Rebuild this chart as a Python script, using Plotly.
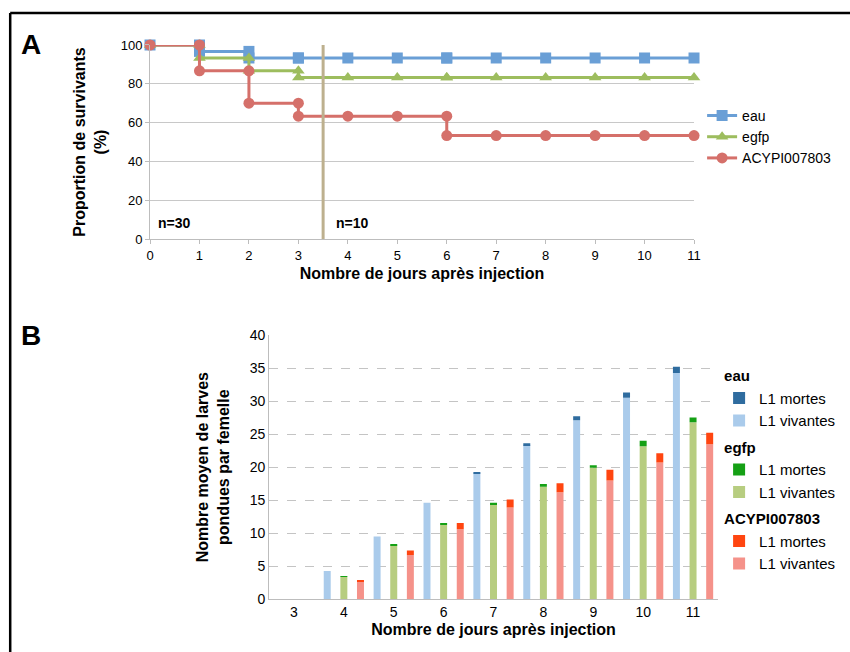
import plotly.graph_objects as go

# ---------- Panel A data (survival, step curves) ----------
days_A = [0, 1, 1, 2, 2, 3, 3, 4, 5, 6, 6, 7, 8, 9, 10, 11]
eau_A = [100, 100, 96.7, 96.7, 93.3, 93.3, 93.3, 93.3, 93.3, 93.3, 93.3, 93.3, 93.3, 93.3, 93.3, 93.3]
egfp_A = [100, 100, 93.3, 93.3, 86.7, 86.7, 83.3, 83.3, 83.3, 83.3, 83.3, 83.3, 83.3, 83.3, 83.3, 83.3]
acypi_A = [100, 100, 86.7, 86.7, 70.0, 70.0, 63.3, 63.3, 63.3, 63.3, 53.3, 53.3, 53.3, 53.3, 53.3, 53.3]
divider_day = 3.5

# ---------- Panel B data (larvae per female) ----------
days_B = [3, 4, 5, 6, 7, 8, 9, 10, 11]
eau_viv = [0, 4.3, 9.5, 14.6, 19.05, 23.3, 27.1, 30.5, 34.25]
eau_mort = [0, 0, 0, 0, 0.15, 0.3, 0.6, 0.8, 0.95]
egfp_viv = [0, 3.4, 8.15, 11.3, 14.3, 17.05, 19.9, 23.15, 26.8]
egfp_mort = [0, 0.1, 0.15, 0.25, 0.3, 0.4, 0.4, 0.85, 0.7]
acypi_viv = [0, 2.7, 6.7, 10.6, 13.9, 16.2, 18.0, 20.7, 23.45]
acypi_mort = [0, 0.1, 0.7, 0.95, 1.2, 1.35, 1.6, 1.4, 1.75]

FONT = "Liberation Sans, Arial, Helvetica, sans-serif"
fig = go.Figure()

# Panel A traces
for name, vals, col, sym in [("eau", eau_A, "#6A9FD6", "square"),
                              ("egfp", egfp_A, "#9DBD5E", "triangle-up"),
                              ("ACYPI007803", acypi_A, "#D5706A", "circle")]:
    fig.add_trace(go.Scatter(x=days_A, y=vals, name=name, mode="lines+markers",
                             line=dict(color=col, width=3),
                             marker=dict(symbol=sym, size=11, color=col),
                             xaxis="x", yaxis="y", legend="legend", cliponaxis=False))

# Panel B traces
groups = [("eau", eau_viv, eau_mort, "#AACBEB", "#2F6C9F", "a"),
          ("egfp", egfp_viv, egfp_mort, "#B7CD80", "#15A015", "b"),
          ("ACYPI007803", acypi_viv, acypi_mort, "#F5928A", "#FF4510", "c")]
rank = 1
for gname, viv, mort, cv, cm, og in groups:
    title = dict(text="<b>" + gname + "</b>", font=dict(size=15, color="black"))
    fig.add_trace(go.Bar(x=days_B, y=viv, name="L1 vivantes", marker=dict(color=cv, line_width=0),
                         offsetgroup=og, legendgroup=gname, legendgrouptitle=title,
                         legendrank=rank + 1, xaxis="x2", yaxis="y2", legend="legend2"))
    fig.add_trace(go.Bar(x=days_B, y=mort, base=viv, name="L1 mortes", marker=dict(color=cm, line_width=0),
                         offsetgroup=og, legendgroup=gname, legendgrouptitle=title,
                         legendrank=rank, xaxis="x2", yaxis="y2", legend="legend2"))
    rank += 2

fig.update_layout(
    width=850, height=652, margin=dict(l=0, r=0, t=0, b=0, autoexpand=False),
    paper_bgcolor="white", plot_bgcolor="white",
    font=dict(family=FONT, color="black", size=13),
    barmode="group", bargap=0.0, bargroupgap=0.58,
    xaxis=dict(domain=[0.1765, 0.8165], range=[0, 11], tickvals=list(range(12)),
               showgrid=False, showline=True, linecolor="#BDBDBD", linewidth=1,
               ticks="outside", tickcolor="#BDBDBD", ticklen=4, tickfont=dict(size=13),
               title=dict(text="<b>Nombre de jours après injection</b>", font=dict(size=16), standoff=6),
               anchor="y", zeroline=False),
    yaxis=dict(domain=[0.6334, 0.931], range=[0, 100], tickvals=[0, 20, 40, 60, 80, 100],
               showgrid=True, gridcolor="#C8C8C8", gridwidth=1, showline=True, linecolor="#BDBDBD",
               ticks="outside", tickcolor="#BDBDBD", ticklen=4, tickfont=dict(size=13),
               title=dict(text="<b>Proportion de survivants<br>(%)</b>", font=dict(size=16), standoff=10),
               anchor="x", zeroline=False),
    xaxis2=dict(domain=[0.3165, 0.8447], range=[2.5, 11.5], tickvals=days_B,
                showgrid=False, showline=True, linecolor="#BDBDBD", linewidth=1,
                ticks="", tickfont=dict(size=14),
                title=dict(text="<b>Nombre de jours après injection</b>", font=dict(size=16), standoff=4),
                anchor="y2", zeroline=False),
    yaxis2=dict(domain=[0.0808, 0.4862], range=[0, 40], tickvals=list(range(0, 41, 5)),
                showgrid=True, gridcolor="#C4C4C4", griddash="dash", showline=True, linecolor="#BDBDBD",
                ticks="", tickfont=dict(size=14),
                title=dict(text="<b>Nombre moyen de larves<br>pondues par femelle</b>", font=dict(size=16), standoff=16),
                anchor="x2", zeroline=False),
    legend=dict(x=0.826, y=0.79, xanchor="left", yanchor="middle", font=dict(size=14),
                bgcolor="rgba(0,0,0,0)", itemwidth=30, tracegroupgap=0),
    legend2=dict(x=0.846, y=0.449, xanchor="left", yanchor="top", font=dict(size=15),
                 traceorder="grouped",
                 bgcolor="rgba(0,0,0,0)", tracegroupgap=4, itemwidth=30),
    showlegend=True,
)

# divider line in panel A
fig.add_shape(type="line", xref="x", yref="y", x0=divider_day, x1=divider_day, y0=0, y1=100,
              line=dict(color="#BDB08E", width=3))

# frame (top & left)
fig.add_shape(type="line", xref="paper", yref="paper", x0=0.012, x1=1, y0=0.98, y1=0.98,
              line=dict(color="black", width=2.5))
fig.add_shape(type="line", xref="paper", yref="paper", x0=0.012, x1=0.012, y0=0, y1=0.98,
              line=dict(color="black", width=2.5))

fig.add_annotation(x=0.5, y=8, xref="x", yref="y", text="<b>n=30</b>", showarrow=False,
                   font=dict(size=14), xanchor="center")
fig.add_annotation(x=4.1, y=8, xref="x", yref="y", text="<b>n=10</b>", showarrow=False,
                   font=dict(size=14), xanchor="center")
fig.add_annotation(x=0.037, y=0.931, xref="paper", yref="paper", text="<b>A</b>", showarrow=False,
                   font=dict(size=28), xanchor="center", yanchor="middle")
fig.add_annotation(x=0.037, y=0.486, xref="paper", yref="paper", text="<b>B</b>", showarrow=False,
                   font=dict(size=28), xanchor="center", yanchor="middle")

fig.write_html("out.html", config={"displayModeBar": False},
               post_script="document.body.style.margin='0';document.body.style.overflow='hidden';")
